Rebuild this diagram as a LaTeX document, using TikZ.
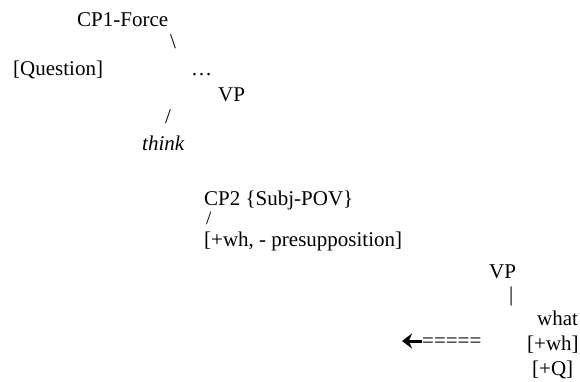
\documentclass[tikz,border=0pt]{standalone}
\usepackage{fontspec}
\setmainfont{Liberation Serif}
\usetikzlibrary{arrows.meta}

\tikzset{
  lbl/.style={anchor=base west,inner sep=0pt,font=\fontsize{21}{25}\selectfont},
}

\begin{document}
\begin{tikzpicture}[x=1pt,y=-1pt,>=Stealth]
\useasboundingbox (0,0) rectangle (580,382);
% upper clause
\node[lbl] (cpone) at (77,27) {CP1-Force};
\node[lbl] (bsl) at (170,49) {\textbackslash};
\node[lbl] (question) at (13,76) {[Question]};
\node[lbl] (dots) at (191,76) {\ldots};
\node[lbl] (vpone) at (218,102) {VP};
\node[lbl] (sla) at (165,124) {/};
\node[lbl] (think) at (142,150) {\itshape think};
% embedded clause
\node[lbl] (cptwo) at (204,205) {CP2 \{Subj-POV\}};
\node[lbl,font=\fontsize{19}{23}\selectfont] (slb) at (206,224) {/};
\node[lbl] (feat) at (204,246) {[+wh, - presupposition]};
\node[lbl] (vptwo) at (489,278) {VP};
\node[lbl] (bar) at (509,301) {|};
\node[lbl] (what) at (537,325) {what};
\node[lbl] (wh) at (527,350) {[+wh]};
\node[lbl] (q) at (532,375) {[+Q]};
% movement
\node[lbl] (eq) at (422,347) {=====};
\coordinate (tip) at (402,341);
\draw[->,line width=3pt,>={Stealth[length=10pt,width=15pt]}] (eq.west |- tip) -- (tip);
\end{tikzpicture}
\end{document}
